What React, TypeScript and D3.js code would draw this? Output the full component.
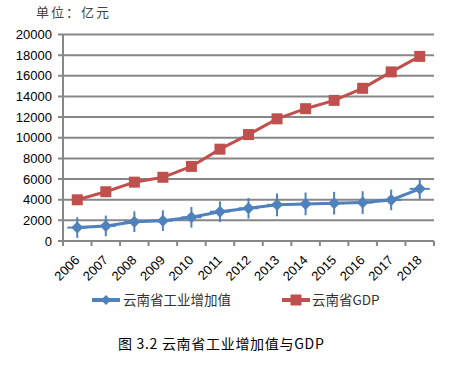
import React from "react";
import * as d3 from "d3";

const years = ["2006","2007","2008","2009","2010","2011","2012","2013","2014","2015","2016","2017","2018"];
const industry = [1300, 1460, 1870, 1970, 2300, 2840, 3170, 3500, 3590, 3660, 3720, 3980, 5050];
const gdp = [3990, 4772, 5700, 6170, 7224, 8893, 10309, 11832, 12815, 13619, 14788, 16376, 17881];
const errV = [1000, 1000, 1000, 1000, 1000, 1000, 1000, 1100, 1100, 1100, 1100, 1000, 1000];
const yTicks = [0, 2000, 4000, 6000, 8000, 10000, 12000, 14000, 16000, 18000, 20000];

const W = 458, H = 366;
const left = 63, right = 434, top = 34.5, bottom = 241;

export default function App() {
  const x = d3.scaleBand<string>().domain(years).range([left, right]).padding(0);
  const y = d3.scaleLinear().domain([0, 20000]).range([bottom, top]);
  const cx = (d: string) => (x(d) as number) + x.bandwidth() / 2;
  const line = d3.line<number>().x((_, i) => cx(years[i])).y((v) => y(v));
  const blue = "#4F81BD", red = "#C0504D", grid = "#878787";
  const diamond = (px: number, py: number, r: number) =>
    `M${px},${py - r}L${px + r},${py}L${px},${py + r}L${px - r},${py}Z`;
  const bounds = years.map((_, i) => left + i * x.bandwidth()).concat([right]);

  return (
    <svg width={W} height={H} style={{ position: "absolute", left: 0, top: 0 }}>
      <rect width={W} height={H} fill="#fff" />
      <text x={36} y={17} fontFamily="Noto Sans CJK SC" fontSize={13} fill="#444" letterSpacing={2}>单位：亿元</text>
      {yTicks.map((t) => (
        <g key={t}>
          <line x1={58} x2={right} y1={y(t)} y2={y(t)} stroke={grid} strokeWidth={2} />
          <text x={52} y={y(t) + 4.5} textAnchor="end" fontFamily="Liberation Sans" fontSize={13} fill="#000">{t}</text>
        </g>
      ))}
      <line x1={left} x2={left} y1={top} y2={bottom} stroke={grid} strokeWidth={2} />
      {bounds.map((b, i) => (
        <line key={i} x1={b} x2={b} y1={bottom} y2={bottom + 5} stroke={grid} strokeWidth={2} />
      ))}
      {years.map((yr) => (
        <text key={yr} transform={`translate(${cx(yr) + 3},${bottom + 20}) rotate(-45)`} textAnchor="end"
          fontFamily="Liberation Sans" fontSize={13} fill="#000">{yr}</text>
      ))}
      <path d={line(gdp) || ""} fill="none" stroke={red} strokeWidth={3} />
      {gdp.map((v, i) => (
        <rect key={i} x={cx(years[i]) - 5.5} y={y(v) - 5.5} width={11} height={11} fill={red} />
      ))}
      <path d={line(industry) || ""} fill="none" stroke={blue} strokeWidth={3} />
      {industry.map((v, i) => {
        const px = cx(years[i]);
        return (
          <g key={i}>
            <line x1={px} x2={px} y1={y(v + errV[i])} y2={y(v - errV[i])} stroke={blue} strokeWidth={2} />
            <line x1={px - 10} x2={px + 10} y1={y(v)} y2={y(v)} stroke={blue} strokeWidth={2} />
            <path d={diamond(px, y(v), 6)} fill={blue} />
          </g>
        );
      })}
      <line x1={92} x2={120} y1={300} y2={300} stroke={blue} strokeWidth={4} />
      <path d={diamond(106, 300, 5)} fill={blue} />
      <text x={123} y={305} fontFamily="Noto Sans CJK SC" fontSize={13.5} fill="#333">云南省工业增加值</text>
      <line x1={282} x2={310} y1={300} y2={300} stroke={red} strokeWidth={4} />
      <rect x={290.5} y={294.5} width={11} height={11} fill={red} />
      <text x={312} y={305} fontFamily="Noto Sans CJK SC" fontSize={13.5} fill="#333">云南省GDP</text>
      <text x={118} y={349} fontFamily="Noto Sans CJK SC" fontSize={14} fill="#000" letterSpacing={0.7}>图 3.2 云南省工业增加值与GDP</text>
    </svg>
  );
}
